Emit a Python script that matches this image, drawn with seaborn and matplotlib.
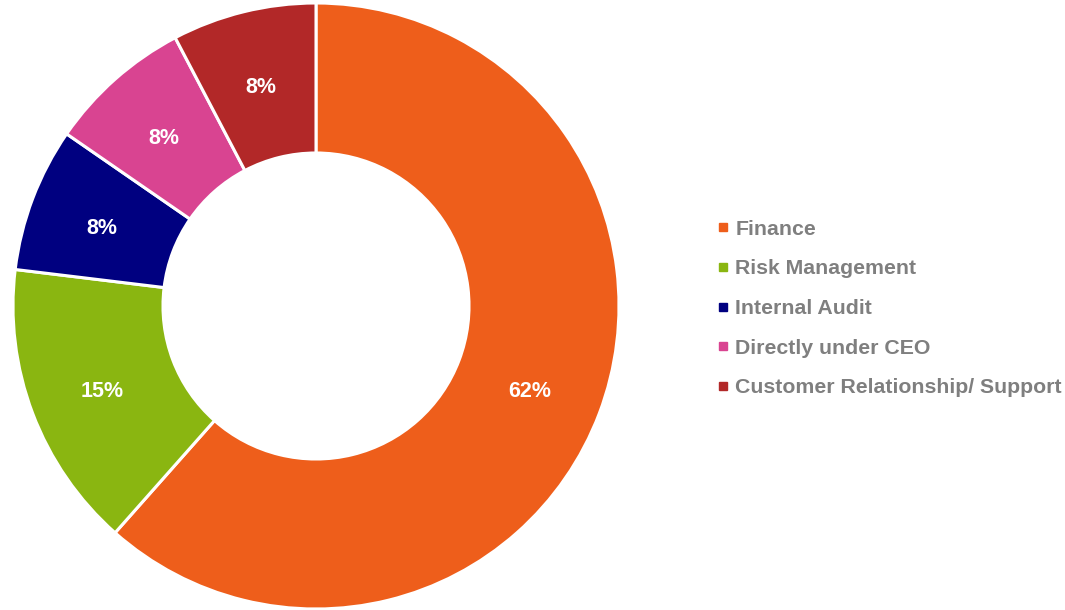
import matplotlib
matplotlib.use("Agg")
import matplotlib.pyplot as plt
from matplotlib.lines import Line2D
import seaborn as sns

# Headcount by reporting line
categories = ["Finance", "Risk Management", "Internal Audit",
              "Directly under CEO", "Customer Relationship/ Support"]
counts = [8, 2, 1, 1, 1]
colors = ["#EE5E1B", "#8AB611", "#000080", "#D94491", "#B22828"]

sns.set_theme(style="white")
plt.rcParams["font.family"] = ["Liberation Sans", "DejaVu Sans"]

fig = plt.figure(figsize=(10.65, 6.10), dpi=100)
ax = fig.add_axes([13 / 1065, 1 / 610, 606 / 1065, 606 / 610])

palette = sns.color_palette(colors)
wedges, texts, autotexts = ax.pie(
    counts,
    colors=palette,
    startangle=90,
    counterclock=False,
    radius=1.0,
    autopct=lambda p: f"{p:.0f}%",
    pctdistance=0.755,
    wedgeprops=dict(width=0.495, edgecolor="white", linewidth=2.2),
    textprops=dict(color="white", fontsize=15.5, fontweight="bold"),
)
# nudge the percentage labels slightly downward
for t in autotexts:
    x, y = t.get_position()
    t.set_position((x, y - 0.013))

ax.set_xlim(-1, 1)
ax.set_ylim(-1, 1)
ax.set_aspect("equal")
ax.axis("off")

handles = [Line2D([0], [0], marker="s", linestyle="none", markersize=5.5,
                  markerfacecolor=c, markeredgecolor=c) for c in palette]
leg = fig.legend(
    handles, categories,
    loc="center left",
    bbox_to_anchor=(697 / 1065, 1 - 308.5 / 610),
    frameon=False,
    handlelength=0.6,
    handletextpad=0.3,
    labelspacing=0.97,
    prop=dict(size=15.3, weight="bold"),
)
for t in leg.get_texts():
    t.set_color("#7F7F7F")

fig.savefig("out.png", dpi=100, facecolor="white")
